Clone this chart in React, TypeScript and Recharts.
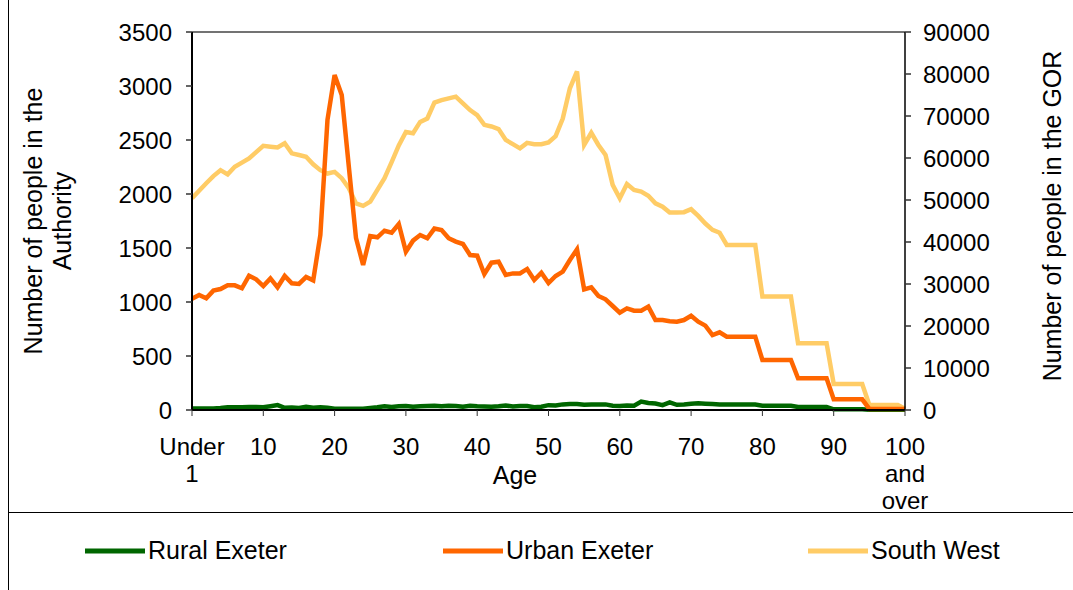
import React from 'react';
import { LineChart, Line, XAxis, YAxis, Legend, ReferenceLine } from 'recharts';

const FONT = '"Liberation Sans", Arial, sans-serif';

// single years of age, Under 1 .. 100 and over
const ageLabels = Array.from({ length: 101 }, (_, i) =>
  i === 0 ? 'Under 1' : i === 100 ? '100 and over' : String(i)
);

const ruralExeter = [
  15, 15, 15, 15, 18, 25, 25, 25, 28, 28,
  25, 35, 45, 20, 22, 18, 30, 20, 25, 22,
  12, 12, 12, 12, 12, 18, 25, 35, 28, 35,
  38, 30, 35, 38, 40, 35, 40, 38, 30, 40,
  35, 32, 30, 35, 42, 32, 38, 36, 25, 30,
  45, 42, 52, 55, 55, 48, 52, 52, 52, 40,
  38, 42, 40, 78, 65, 60, 45, 70, 48, 52,
  58, 62, 58, 55, 52, 50, 50, 50, 50, 50,
  40, 40, 40, 40, 40, 28, 28, 28, 28, 28,
  6, 6, 6, 6, 6, 2, 2, 2, 2, 2,
  2,
];

const urbanExeter = [
  1030, 1065, 1034, 1105, 1120, 1154, 1154, 1127, 1244, 1210,
  1148, 1219, 1136, 1241, 1173, 1167, 1231, 1200, 1620, 2685,
  3102, 2917, 2250, 1593, 1343, 1611, 1599, 1660, 1642, 1722,
  1466, 1568, 1620, 1590, 1680, 1667, 1590, 1559, 1537, 1435,
  1429, 1259, 1364, 1373, 1250, 1265, 1265, 1306, 1204, 1271,
  1176, 1241, 1281, 1389, 1488, 1117, 1136, 1056, 1025, 963,
  901, 941, 920, 920, 957, 833, 833, 821, 818, 833,
  873, 818, 781, 694, 719, 679, 679, 679, 679, 679,
  463, 463, 463, 463, 463, 293, 293, 293, 293, 293,
  99, 99, 99, 99, 99, 10, 10, 10, 10, 10,
  10,
];

const southWest = [
  50400, 52200, 54000, 55700, 57100, 56100, 57900, 58900, 59900, 61400,
  62900, 62700, 62500, 63500, 61100, 60700, 60300, 58500, 57100, 56300,
  56700, 55200, 52800, 49200, 48600, 49600, 52400, 55200, 59000, 63000,
  66200, 65900, 68600, 69400, 73200, 73800, 74200, 74600, 73000, 71400,
  70200, 67900, 67500, 66900, 64300, 63300, 62300, 63600, 63300, 63300,
  63700, 65200, 69400, 76600, 80600, 63100, 66000, 63100, 60700, 53600,
  50400, 53800, 52400, 52000, 51000, 49200, 48400, 47000, 47000, 47100,
  47800, 46200, 44400, 42900, 42200, 39300, 39300, 39300, 39300, 39300,
  27000, 27000, 27000, 27000, 27000, 15900, 15900, 15900, 15900, 15900,
  6200, 6200, 6200, 6200, 6200, 1200, 1200, 1200, 1200, 1200,
  300,
];

const leftTicks = [0, 500, 1000, 1500, 2000, 2500, 3000, 3500];
const rightTicks = [0, 10000, 20000, 30000, 40000, 50000, 60000, 70000, 80000, 90000];

const seriesNames = ['Rural Exeter', 'Urban Exeter', 'South West'];
const seriesColors = ['#006600', '#FF6600', '#FFCC66'];

const data = ageLabels.map((age, i) => ({
  age,
  rural: ruralExeter[i],
  urban: urbanExeter[i],
  southWest: southWest[i],
}));

const AgeTick = ({ x, y, payload }: any) => {
  const lines = String(payload.value).split(' ');
  return (
    <text x={x} y={y} textAnchor="middle" fontSize={24} fontFamily={FONT} fill="#000">
      {lines.map((l, i) => (
        <tspan key={i} x={x} dy={i === 0 ? 37 : 27}>
          {l}
        </tspan>
      ))}
    </text>
  );
};

const LeftTitle = ({ viewBox }: any) => {
  const cy = viewBox ? viewBox.y + viewBox.height / 2 : 221;
  const style = { fontSize: 25, fontFamily: FONT, fill: '#000' };
  return (
    <g>
      <text transform={`translate(33, ${cy}) rotate(-90)`} textAnchor="middle" dominantBaseline="central" {...style}>
        Number of people in the
      </text>
      <text transform={`translate(62, ${cy}) rotate(-90)`} textAnchor="middle" dominantBaseline="central" {...style}>
        Authority
      </text>
    </g>
  );
};

const RightTitle = () => (
  <text
    transform="translate(1052, 216) rotate(-90)"
    textAnchor="middle"
    dominantBaseline="central"
    fontSize={25}
    fontFamily={FONT}
    fill="#000"
  >
    Number of people in the GOR
  </text>
);

const AgeTitle = () => (
  <text x={515} y={484} textAnchor="middle" fontSize={25} fontFamily={FONT} fill="#000">
    Age
  </text>
);

const legendLeft = [85, 443, 808];

const renderLegend = () => (
  <div
    style={{
      position: 'relative',
      marginLeft: 8,
      width: 1065,
      height: 77,
      borderTop: '1px solid #000',
      borderLeft: '1px solid #000',
    }}
  >
    {seriesNames.map((name, i) => (
      <div
        key={name}
        style={{
          position: 'absolute',
          left: legendLeft[i] - 9,
          top: 23,
          display: 'flex',
          alignItems: 'center',
          fontFamily: FONT,
          fontSize: 25,
          color: '#000',
        }}
      >
        <svg width={60} height={8}>
          <line x1={0} y1={4} x2={60} y2={4} stroke={seriesColors[i]} strokeWidth={5} />
        </svg>
        <span style={{ marginLeft: 3 }}>{name}</span>
      </div>
    ))}
  </div>
);

export default function App() {
  return (
    <div style={{ position: 'absolute', left: 0, top: 0, width: 1073, height: 590, background: '#fff' }}>
      <div style={{ position: 'absolute', left: 8, top: 0, width: 1, height: 590, background: '#000' }} />
      <LineChart width={1073} height={590} data={data} margin={{ top: 32, right: 0, bottom: 0, left: 0 }}>
        <XAxis
          dataKey="age"
          interval={9}
          height={102}
          tick={<AgeTick />}
          tickSize={6}
          axisLine={{ stroke: '#000', strokeWidth: 2 }}
          tickLine={{ stroke: '#333' }}
          label={<AgeTitle />}
        />
        <YAxis
          yAxisId="left"
          domain={[0, 3500]}
          ticks={leftTicks}
          width={192}
          tickSize={6}
          tickMargin={14}
          tick={{ fontSize: 24, fontFamily: FONT, fill: '#000' }}
          axisLine={{ stroke: '#000', strokeWidth: 2 }}
          tickLine={{ stroke: '#333', strokeWidth: 1.5 }}
          label={<LeftTitle />}
        />
        <YAxis
          yAxisId="right"
          orientation="right"
          domain={[0, 90000]}
          ticks={rightTicks}
          width={168}
          tickSize={6}
          tickMargin={12}
          tick={{ fontSize: 24, fontFamily: FONT, fill: '#000' }}
          axisLine={{ stroke: '#000', strokeWidth: 1.5 }}
          tickLine={{ stroke: '#333', strokeWidth: 1.5 }}
          label={<RightTitle />}
        />
        <ReferenceLine yAxisId="left" y={3500} stroke="#444" strokeWidth={1.5} />
        <Legend verticalAlign="bottom" content={renderLegend} />
        <Line
          yAxisId="right"
          type="linear"
          dataKey="southWest"
          name={seriesNames[2]}
          stroke={seriesColors[2]}
          strokeWidth={4.5}
          dot={false}
          isAnimationActive={false}
        />
        <Line
          yAxisId="left"
          type="linear"
          dataKey="rural"
          name={seriesNames[0]}
          stroke={seriesColors[0]}
          strokeWidth={4.5}
          dot={false}
          isAnimationActive={false}
        />
        <Line
          yAxisId="left"
          type="linear"
          dataKey="urban"
          name={seriesNames[1]}
          stroke={seriesColors[1]}
          strokeWidth={4.5}
          dot={false}
          isAnimationActive={false}
        />
      </LineChart>
    </div>
  );
}
